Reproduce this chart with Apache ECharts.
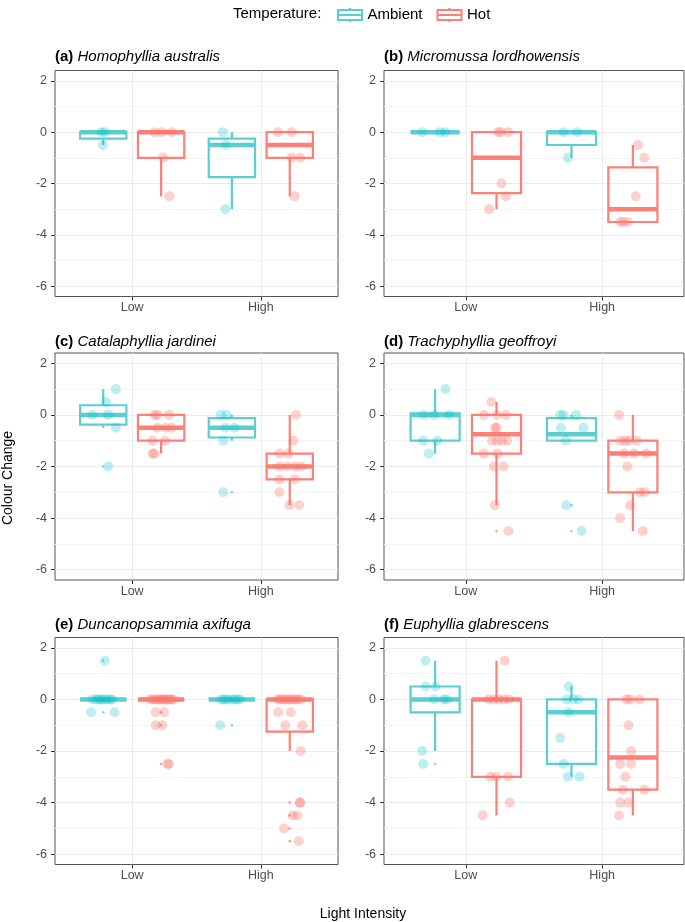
<!DOCTYPE html>
<html>
<head>
<meta charset="utf-8">
<title>Colour Change</title>
<script src="https://cdn.jsdelivr.net/npm/echarts@6.0.0/dist/echarts.min.js"></script>
<style>
  body { margin: 0; background: #fff; }
  #main { width: 685px; height: 922px; }
</style>
</head>
<body>
<div id="main"></div>
<script type="text/javascript">
// categories and groups
var categories = ['Low', 'High'];
var temps = ['Ambient', 'Hot'];
var yTicks = [-6, -4, -2, 0, 2];
var yMinor = [-5, -3, -1, 1];
var panelTags = ['(a)', '(b)', '(c)', '(d)', '(e)', '(f)'];
var panelSpecies = ['Homophyllia australis', 'Micromussa lordhowensis', 'Catalaphyllia jardinei',
  'Trachyphyllia geoffroyi', 'Duncanopsammia axifuga', 'Euphyllia glabrescens'];

// box stats [min, q1, median, q3, max]: Low/Ambient, Low/Hot, High/Ambient, High/Hot
var boxA = [[-0.5, -0.25, 0, 0, 0], [-2.5, -1, 0, 0, 0], [-3, -1.75, -0.5, -0.25, 0], [-2.5, -1, -0.5, 0, 0]];
var boxB = [[0, 0, 0, 0, 0], [-3, -2.375, -1, 0, 0], [-1, -0.5, 0, 0, 0], [-3.5, -3.5, -3, -1.375, -0.5]];
var boxC = [[-0.5, -0.375, 0, 0.375, 1], [-1.5, -1, -0.5, 0, 0], [-1, -0.875, -0.5, -0.125, 0], [-3.5, -2.5, -2, -1.5, 0]];
var boxD = [[-1.5, -1, 0, 0.0625, 1], [-3.5, -1.5, -0.75, 0, 0.5], [-1, -1, -0.75, -0.125, 0], [-4.5, -3, -1.5, -1, 0]];
var boxE = [[0, 0, 0, 0, 0], [0, 0, 0, 0, 0], [0, 0, 0, 0, 0], [-2, -1.25, 0, 0, 0]];
var boxF = [[-2, -0.5, 0, 0.5, 1.5], [-4.5, -3, 0, 0, 1.5], [-3, -2.5, -0.5, 0, 0.5], [-4.5, -3.5, -2.25, 0, 0]];

// boxplot outliers [group, value]
var outA = [];
var outB = [];
var outC = [[0, -2], [2, -3]];
var outD = [[1, -4.5], [2, -3.5], [2, -4.5]];
var outE = [[0, 1.5], [0, -0.5], [1, -0.5], [1, -1], [1, -2.5], [2, -1], [3, -4], [3, -4.5], [3, -5], [3, -5.5]];
var outF = [[0, -2.5]];

// jittered observations per group: [offset from category, value]
var ptsA = [
  [[-0.212, 0], [-0.24, 0], [-0.227, -0.5]],
  [[0.176, 0], [0.23, 0], [0.307, 0], [0.24, -1], [0.289, -2.5]],
  [[-0.295, 0], [-0.271, -0.5], [-0.276, -3]],
  [[0.132, 0], [0.24, 0], [0.238, -1], [0.307, -1], [0.264, -2.5]]
];
var ptsB = [
  [[-0.32, 0], [-0.19, 0], [-0.15, 0]],
  [[0.237, 0], [0.254, 0], [0.31, 0], [0.261, -2], [0.293, -2.5], [0.171, -3]],
  [[-0.283, 0], [-0.185, 0], [-0.251, -1]],
  [[0.263, -0.5], [0.309, -1], [0.246, -2.5], [0.132, -3.5], [0.156, -3.5], [0.188, -3.5]]
];
var ptsC = [
  [[-0.127, 1], [-0.204, 0.5], [-0.307, 0], [-0.186, 0], [-0.127, -0.5], [-0.186, -2]],
  [[0.176, 0], [0.196, 0], [0.287, 0], [0.196, -0.5], [0.261, -0.5], [0.307, -0.5], [0.158, -1], [0.256, -1], [0.158, -1.5], [0.173, -1.5]],
  [[-0.31, 0], [-0.266, 0], [-0.274, -0.5], [-0.204, -0.5], [-0.292, -1], [-0.292, -3]],
  [[0.274, 0], [0.253, -1], [0.147, -1.5], [0.214, -1.5], [0.145, -2], [0.204, -2], [0.269, -2], [0.316, -2], [0.145, -2.5], [0.264, -2.5], [0.145, -3], [0.222, -3.5], [0.3, -3.5]]
];
var ptsD = [
  [[-0.149, 1], [-0.307, 0], [-0.234, 0], [-0.124, 0], [-0.312, -1], [-0.21, -1], [-0.271, -1.5]],
  [[0.188, 0.5], [0.132, 0], [0.229, 0], [0.295, 0], [0.215, -0.5], [0.225, -0.5], [0.193, -1], [0.229, -1], [0.266, -1], [0.302, -1], [0.132, -1.5], [0.234, -1.5], [0.205, -2], [0.278, -2], [0.212, -3.5], [0.312, -4.5]],
  [[-0.307, 0], [-0.283, 0], [-0.19, 0], [-0.302, -0.5], [-0.137, -0.5], [-0.268, -1], [-0.263, -3.5], [-0.151, -4.5]],
  [[0.124, 0], [0.132, -1], [0.168, -1], [0.193, -1], [0.254, -1], [0.161, -1.5], [0.234, -1.5], [0.322, -1.5], [0.185, -2], [0.278, -3], [0.31, -3], [0.205, -3.5], [0.132, -4], [0.298, -4.5]]
];
var ptsE = [
  [[-0.31, 0], [-0.28, 0], [-0.26, 0], [-0.245, 0], [-0.23, 0], [-0.21, 0], [-0.19, 0], [-0.17, 0], [-0.155, 0], [-0.212, 1.5], [-0.32, -0.5], [-0.137, -0.5]],
  [[0.14, 0], [0.16, 0], [0.18, 0], [0.2, 0], [0.215, 0], [0.23, 0], [0.245, 0], [0.26, 0], [0.275, 0], [0.29, 0], [0.305, 0], [0.32, 0], [0.183, -0.5], [0.248, -0.5], [0.183, -1], [0.235, -1], [0.274, -2.5], [0.287, -2.5]],
  [[-0.31, 0], [-0.29, 0], [-0.27, 0], [-0.25, 0], [-0.22, 0], [-0.2, 0], [-0.18, 0], [-0.16, 0], [-0.315, -1]],
  [[0.13, 0], [0.15, 0], [0.17, 0], [0.19, 0], [0.21, 0], [0.23, 0], [0.25, 0], [0.27, 0], [0.29, 0], [0.31, 0], [0.134, -0.5], [0.233, -0.5], [0.191, -1], [0.323, -1], [0.31, -2], [0.302, -4], [0.307, -4], [0.248, -4.5], [0.282, -4.5], [0.181, -5], [0.295, -5.5]]
];
var ptsF = [
  [[-0.295, 1.5], [-0.295, 0.5], [-0.222, 0.5], [-0.234, 0], [-0.161, 0], [-0.137, 0], [-0.32, -2], [-0.312, -2.5]],
  [[0.285, 1.5], [0.168, 0], [0.205, 0], [0.241, 0], [0.278, 0], [0.315, 0], [0.18, -3], [0.224, -3], [0.31, -3], [0.322, -4], [0.124, -4.5]],
  [[-0.246, 0.5], [-0.259, 0], [-0.21, 0], [-0.173, 0], [-0.246, -0.5], [-0.307, -1.5], [-0.283, -2.5], [-0.251, -3], [-0.166, -3]],
  [[0.18, 0], [0.205, 0], [0.273, 0], [0.193, -1], [0.212, -2], [0.132, -2.5], [0.212, -2.5], [0.171, -3], [0.151, -3.5], [0.31, -3.5], [0.132, -4], [0.193, -4], [0.124, -4.5]]
];

var boxes = [boxA, boxB, boxC, boxD, boxE, boxF];
var outs = [outA, outB, outC, outD, outE, outF];
var pts = [ptsA, ptsB, ptsC, ptsD, ptsE, ptsF];

// look
var lineColors = ['#5ccdd1', '#fb8078'];
var pointColors = ['rgba(0,191,196,0.32)', 'rgba(248,118,109,0.42)'];
var dodge = [-0.225, 0.225];
var boxWidth = 0.36;
var font = 'Liberation Sans, Arial, sans-serif';

var colLeft = [55, 384];
var colWidth = [283, 300];
var rowTop = [70.5, 353, 637.5];
var rowHeight = [226, 227, 227];
var titleTop = [49, 334, 617];

function boxRenderer(color) {
  return function (params, api) {
    var x = api.value(0);
    var lo = api.coord([x, api.value(1)]);
    var q1 = api.coord([x, api.value(2)]);
    var md = api.coord([x, api.value(3)]);
    var q3 = api.coord([x, api.value(4)]);
    var hi = api.coord([x, api.value(5)]);
    var half = api.size([boxWidth, 0])[0] / 2;
    var cx = lo[0];
    var thin = { stroke: color, lineWidth: 2.2, fill: 'none' };
    return {
      type: 'group',
      children: [
        { type: 'line', shape: { x1: cx, y1: hi[1], x2: cx, y2: q3[1] }, style: thin },
        { type: 'line', shape: { x1: cx, y1: q1[1], x2: cx, y2: lo[1] }, style: thin },
        { type: 'rect', shape: { x: cx - half, y: q3[1], width: half * 2, height: q1[1] - q3[1] }, style: thin },
        { type: 'line', shape: { x1: cx - half, y1: md[1], x2: cx + half, y2: md[1] }, style: { stroke: color, lineWidth: 4.5 } }
      ]
    };
  };
}

var grids = [], xAxes = [], yAxes = [], titles = [], series = [];

for (var p = 0; p < 6; p++) {
  var col = p % 2, row = Math.floor(p / 2);
  grids.push({
    left: colLeft[col], top: rowTop[row], width: colWidth[col], height: rowHeight[row],
    show: true, borderColor: '#555', borderWidth: 1, backgroundColor: 'transparent'
  });
  xAxes.push({
    type: 'value', gridIndex: p, min: 0.4, max: 2.6, position: 'bottom',
    axisLine: { show: false, onZero: false },
    axisTick: { customValues: [1, 2], length: 4, lineStyle: { color: '#333' } },
    axisLabel: {
      customValues: [1, 2], margin: 5, color: '#4d4d4d', fontSize: 12.5, fontFamily: font,
      formatter: function (v) { return categories[Math.round(v) - 1]; }
    },
    splitLine: { show: true, lineStyle: { color: '#ebebeb', width: 1 } }
  });
  // major y axis with labels
  yAxes.push({
    type: 'value', gridIndex: p, min: -6.4, max: 2.4, position: 'left',
    axisLine: { show: false, onZero: false },
    axisTick: { customValues: yTicks, length: 4, lineStyle: { color: '#333' } },
    axisLabel: { customValues: yTicks, margin: 8, color: '#4d4d4d', fontSize: 12.5, fontFamily: font },
    splitLine: { show: true, lineStyle: { color: '#ebebeb', width: 1.1 } }
  });
  // minor grid lines only
  yAxes.push({
    type: 'value', gridIndex: p, min: -6.4, max: 2.4, position: 'left',
    axisLine: { show: false, onZero: false },
    axisTick: { show: false, customValues: yMinor },
    axisLabel: { show: false, customValues: yMinor },
    splitLine: { show: true, lineStyle: { color: '#f4f4f4', width: 1 } }
  });
  titles.push({
    text: '{b|' + panelTags[p] + '} {i|' + panelSpecies[p] + '}',
    left: colLeft[col], top: titleTop[row], padding: 0,
    textStyle: {
      fontSize: 15, fontWeight: 'normal', fontFamily: font, color: '#000',
      rich: {
        b: { fontWeight: 'bold', fontSize: 15, fontFamily: font, color: '#000' },
        i: { fontStyle: 'italic', fontWeight: 'normal', fontSize: 15, fontFamily: font, color: '#000' }
      }
    }
  });

  for (var t = 0; t < 2; t++) {
    var pd = [], bd = [], od = [];
    for (var g = t; g < 4; g += 2) {
      var cat = g < 2 ? 1 : 2;
      pts[p][g].forEach(function (d) { pd.push([cat + d[0], d[1]]); });
      bd.push([cat + dodge[t]].concat(boxes[p][g]));
    }
    outs[p].forEach(function (o) {
      if (o[0] % 2 === t) od.push([(o[0] < 2 ? 1 : 2) + dodge[t], o[1]]);
    });
    series.push({
      type: 'custom', name: temps[t], xAxisIndex: p, yAxisIndex: 2 * p,
      data: bd, renderItem: boxRenderer(lineColors[t]),
      itemStyle: { color: lineColors[t] }, z: 2, silent: true
    });
    series.push({
      type: 'scatter', name: temps[t], xAxisIndex: p, yAxisIndex: 2 * p,
      data: od, symbolSize: 2.5, itemStyle: { color: lineColors[t] }, z: 3, silent: true
    });
    series.push({
      type: 'scatter', name: temps[t], xAxisIndex: p, yAxisIndex: 2 * p,
      data: pd, symbolSize: 10, itemStyle: { color: pointColors[t] }, z: 4, silent: true
    });
  }
}

titles.push({
  text: 'Temperature:', left: 233, top: 6, padding: 0,
  textStyle: { fontSize: 15, fontWeight: 'normal', fontFamily: font, color: '#000' }
});

var keyIcon = 'path://M13,0L13,2M1,2L25,2L25,12L1,12ZM1,7L25,7M13,12L13,14';

var myChart = echarts.init(document.getElementById('main'));
var option = {
  animation: false,
  title: titles,
  legend: {
    left: 337, top: 7, itemWidth: 25, itemHeight: 14, itemGap: 14, padding: 0,
    selectedMode: false,
    textStyle: { fontSize: 15, fontFamily: font, color: '#000' },
    data: temps.map(function (name, i) {
      return {
        name: name, icon: keyIcon,
        itemStyle: { color: 'transparent', borderColor: lineColors[i], borderWidth: 2 }
      };
    })
  },
  graphic: [
    {
      type: 'text', x: 8, y: 478, rotation: Math.PI / 2,
      style: { text: 'Colour Change', fontSize: 14, fontFamily: font, fill: '#000', align: 'center', verticalAlign: 'middle' }
    },
    {
      type: 'text', x: 363, y: 914,
      style: { text: 'Light Intensity', fontSize: 14, fontFamily: font, fill: '#000', align: 'center', verticalAlign: 'middle' }
    }
  ],
  grid: grids,
  xAxis: xAxes,
  yAxis: yAxes,
  series: series
};
myChart.setOption(option);
</script>
</body>
</html>
